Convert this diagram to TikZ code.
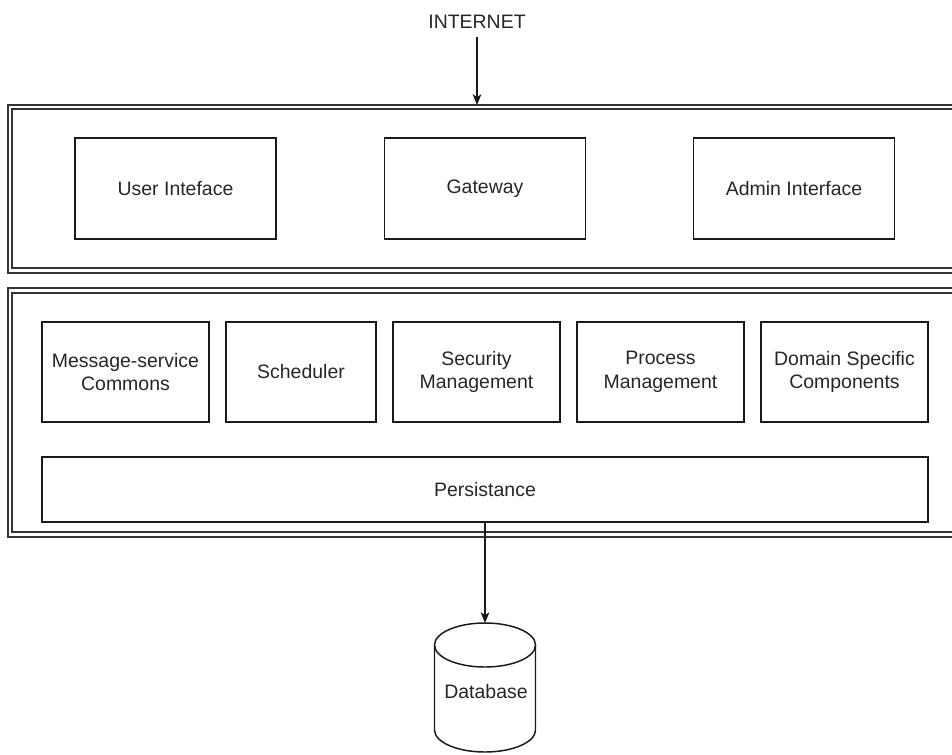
\documentclass[tikz,border=0pt]{standalone}
\usepackage{fontspec}
\setmainfont{Liberation Sans}
\usetikzlibrary{arrows.meta}
\begin{document}
\begin{tikzpicture}[x=0.75pt,y=-0.75pt,
  every node/.style={font=\fontsize{14.6}{17.6}\selectfont, text=black!85},
  comp/.style={draw=black!90, line width=1.1pt, rectangle, align=center, inner sep=0pt},
  frame/.style={draw=black!80, line width=1.1pt},
  conn/.style={draw=black!90, line width=1.1pt, -{Stealth[length=8pt,width=6.5pt,inset=2pt]}},
  cyl/.style={draw=black!90, line width=1.1pt}]
\useasboundingbox (0,0) rectangle (952,754);
\clip (0,0) rectangle (952,754);
% containers (double frames, cut off at the right)
\draw[frame] (8,105) rectangle (980,273);
\draw[frame] (12,109) rectangle (980,268);
\draw[frame] (8,288) rectangle (980,537);
\draw[frame] (12,293) rectangle (980,532);
\coordinate (topin) at (477,105);
% internet
\node[inner sep=0pt] (inet) at (477,22) {INTERNET};
\draw[conn] ([yshift=-6pt]inet.south) -- (topin);
% top row
\node[comp, minimum width=150.75pt, minimum height=75.75pt] (ui) at (175.5,188.5) {User Inteface};
\node[comp, minimum width=150.75pt, minimum height=75.75pt] (gw) at (485,188.5) {Gateway};
\node[comp, minimum width=150.75pt, minimum height=75.75pt] (ai) at (794,188.5) {Admin Interface};
% middle row
\node[comp, minimum width=125.25pt, minimum height=75pt] (msg) at (125.5,372) {Message-service\\Commons};
\node[comp, minimum width=112.5pt, minimum height=75pt] (sch) at (301,372) {Scheduler};
\node[comp, minimum width=125.25pt, minimum height=75pt] (sec) at (476.5,372) {Security\\Management};
\node[comp, minimum width=125.25pt, minimum height=75pt] (proc) at (660.5,372) {Process\\Management};
\node[comp, minimum width=125.25pt, minimum height=75pt] (dom) at (844.5,372) {Domain Specific\\Components};
\node[comp, minimum width=664.5pt, minimum height=48.75pt] (pers) at (485,489.5) {Persistance};
% database cylinder
\draw[cyl] (434.5,645) -- (434.5,730) arc[start angle=180, end angle=0, x radius=50.5, y radius=22] -- (535.5,645);
\draw[cyl] (485,645) ellipse[x radius=50.5, y radius=22];
\coordinate (dbtop) at (485,623);
\node (db) at (486,692) {Database};
\draw[conn] (pers.south) -- (dbtop);
\end{tikzpicture}
\end{document}
